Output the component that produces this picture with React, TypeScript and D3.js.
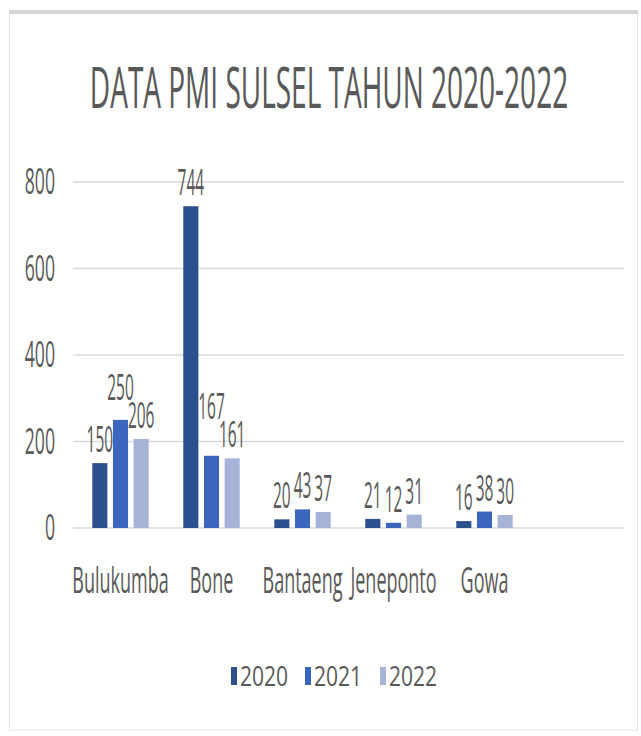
import React from 'react';
import * as d3 from 'd3';

/* data */
const categories = ['Bulukumba', 'Bone', 'Bantaeng', 'Jeneponto', 'Gowa'];
const years = ['2020', '2021', '2022'];
const v2020 = [150, 744, 20, 21, 16];
const v2021 = [250, 167, 43, 12, 38];
const v2022 = [206, 161, 37, 31, 30];
const yTicks = [0, 200, 400, 600, 800];
const colors = ['#2c4f8e', '#3c66bd', '#a7b3d6'];
const title = 'DATA PMI SULSEL TAHUN 2020-2022';

const W = 641, H = 736;
const txt = '#595959';
const grid = '#d9d9d9';
const FONT = '"Open Sans", "DejaVu Sans", sans-serif';

const LBL_SIZE = 36, LBL_SX = 0.43;
const lblWidth = (s: string) => s.length * 0.572 * LBL_SIZE * LBL_SX;

/* squashed text helper – the source picture is compressed sideways */
const Narrow = ({ x, y, size, sx, anchor = 'middle', children }: any) => (
  <g transform={`translate(${x},${y}) scale(${sx},1)`}>
    <text x={0} y={0} fontSize={size} fontFamily={FONT} fill={txt} textAnchor={anchor}>
      {children}
    </text>
  </g>
);

export default function App() {
  const series = [v2020, v2021, v2022];

  const x0 = d3.scaleBand().domain(categories).range([75, 530]).paddingInner(0.38).paddingOuter(0.19);
  const x1 = d3.scaleBand().domain(years).range([0, x0.bandwidth()]).paddingInner(0.27);
  const y = d3.scaleLinear().domain([0, 800]).range([528, 182]);

  const legendX = [231, 305, 380];

  /* data labels, nudged apart like Excel does when they collide */
  const labels: { key: string; x: number; y: number; t: string }[] = [];
  categories.forEach((c, i) => {
    const grp = years.map((yr, k) => {
      const v = series[k][i];
      return {
        key: c + yr,
        x: (x0(c) as number) + (x1(yr) as number) + x1.bandwidth() / 2,
        y: y(v) - 11,
        t: String(v),
      };
    });
    for (let k = 1; k < grp.length; k++) {
      const a = grp[k - 1], b = grp[k];
      const vOverlap = Math.abs(a.y - b.y) < 26;
      const gap = (b.x - lblWidth(b.t) / 2) - (a.x + lblWidth(a.t) / 2);
      if (vOverlap && gap < 1) {
        if (a.y < b.y) a.y = Math.min(a.y, b.y - 28);
        else b.y = Math.min(b.y, a.y - 28);
      }
    }
    labels.push(...grp);
  });

  return (
    <div style={{ position: 'absolute', left: 0, top: 0 }}>
      <svg width={W} height={H} style={{ display: 'block', background: '#fff' }}>
        {/* card frame */}
        <rect x={9.5} y={12} width={628} height={718} fill="#fff" stroke="#e4e4e4" strokeWidth={1} />
        <rect x={9} y={10} width={629} height={4} fill="#d6d6d6" />

        {/* title */}
        <Narrow x={329} y={108} size={56} sx={0.5}>{title}</Narrow>

        {/* gridlines + y ticks */}
        {yTicks.map(t => (
          <g key={t}>
            <line x1={73} x2={624} y1={y(t)} y2={y(t)} stroke={grid} strokeWidth={1.5} />
            <Narrow x={55} y={y(t) + 12} size={36} sx={0.49} anchor="end">{t}</Narrow>
          </g>
        ))}

        {/* bars */}
        {categories.map((c, i) => (
          <g key={c} transform={`translate(${x0(c)},0)`}>
            {years.map((yr, k) => {
              const v = series[k][i];
              return (
                <rect
                  key={yr}
                  x={x1(yr)}
                  y={y(v)}
                  width={x1.bandwidth()}
                  height={y(0) - y(v)}
                  fill={colors[k]}
                />
              );
            })}
          </g>
        ))}

        {/* data labels */}
        {labels.map(l => (
          <Narrow key={l.key} x={l.x} y={l.y} size={LBL_SIZE} sx={LBL_SX}>{l.t}</Narrow>
        ))}

        {/* category labels */}
        {categories.map(c => (
          <Narrow key={c} x={(x0(c) as number) + x0.bandwidth() / 2} y={593} size={36} sx={0.5}>
            {c}
          </Narrow>
        ))}

        {/* legend */}
        {years.map((yr, k) => (
          <g key={yr}>
            <rect x={legendX[k]} y={667} width={6} height={18} fill={colors[k]} />
            <Narrow x={legendX[k] + 9} y={686} size={27} sx={0.78} anchor="start">{yr}</Narrow>
          </g>
        ))}
      </svg>
    </div>
  );
}
